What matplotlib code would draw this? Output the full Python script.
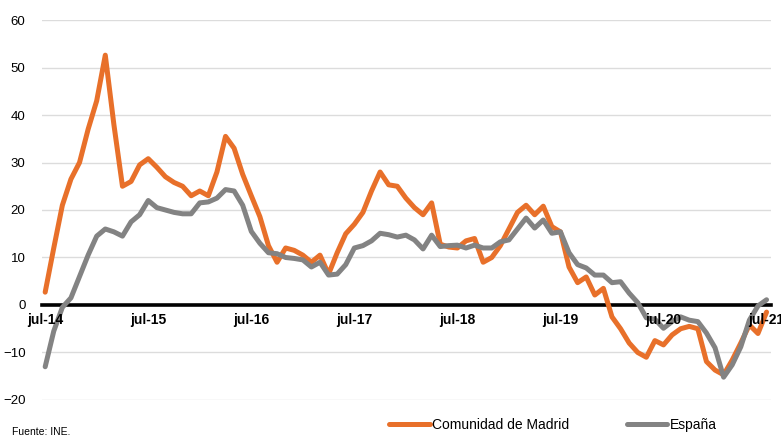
import numpy as np
import matplotlib.pyplot as plt

plt.rcParams['font.family'] = ['Liberation Sans', 'DejaVu Sans']

# monthly series, jul-14 .. jul-21
madrid = [2.7, 12, 21, 26.5, 30, 37, 43, 52.6, 38, 25, 26, 29.5, 30.8, 29, 27, 25.8,
          25, 23, 24, 23, 28, 35.5, 33, 27.5, 23, 18.6, 12.5, 9, 12, 11.5, 10.5, 9,
          10.5, 6.5, 11, 15, 17, 19.5, 24, 28, 25.3, 25, 22.5, 20.5, 19, 21.5, 12.8, 12.2,
          12, 13.5, 14, 9, 10, 12.5, 16, 19.5, 21, 19, 20.8, 16.5, 15.4, 8, 4.7, 5.9,
          2.1, 3.5, -2.5, -5, -8, -10, -11, -7.5, -8.4, -6.3, -5, -4.5, -5, -11.9, -13.7,
          -14.7, -11.6, -8, -4.2, -6, -1.5]
espana = [-13, -5.5, -0.5, 1.5, 6, 10.5, 14.5, 16, 15.4, 14.5, 17.5, 19, 22, 20.5, 20,
          19.5, 19.2, 19.2, 21.5, 21.7, 22.5, 24.3, 24, 21, 15.5, 13, 11, 10.8, 10, 9.8,
          9.5, 8, 9, 6.3, 6.5, 8.5, 12, 12.5, 13.5, 15.1, 14.8, 14.3, 14.7, 13.7, 11.8,
          14.7, 12.3, 12.5, 12.6, 12, 12.6, 12, 12, 13.3, 13.7, 16, 18.3, 16.2, 17.9,
          15.1, 15.4, 11, 8.5, 7.8, 6.3, 6.3, 4.7, 4.9, 2.5, 0.5, -2.7, -3, -4.9, -3.5,
          -2.5, -3.2, -3.5, -5.9, -9, -15.2, -12.6, -8.8, -3.2, -0.2, 1.1]
tick_labels = ['jul-14', 'jul-15', 'jul-16', 'jul-17', 'jul-18', 'jul-19', 'jul-20', 'jul-21']

orange = '#E8702A'
grey = '#838383'

fig = plt.figure(figsize=(7.81, 4.36), dpi=100)
ax = fig.add_axes([0.054, 0.0826, 0.933, 0.8715])

x = np.arange(len(madrid))
ax.plot(x, madrid, color=orange, lw=3.6, solid_joinstyle='round', solid_capstyle='round',
        label='Comunidad de Madrid', zorder=3)
ax.plot(x, espana, color=grey, lw=3.6, solid_joinstyle='round', solid_capstyle='round',
        label='España', zorder=3)

ax.set_ylim(-20, 60)
ax.set_xlim(-0.35, 84.5)
ax.set_yticks(range(-20, 61, 10))
ax.grid(axis='y', color='#dcdcdc', lw=1)
ax.set_axisbelow(True)
ax.xaxis.set_zorder(4)  # month labels sit on top of the lines

for s in ['top', 'right', 'left']:
    ax.spines[s].set_visible(False)
ax.spines['bottom'].set_position(('data', 0))
ax.spines['bottom'].set_linewidth(2.6)
ax.spines['bottom'].set_zorder(2)

ax.set_xticks(np.arange(0, 85, 12))
ax.set_xticklabels(tick_labels, fontweight='bold')
ax.tick_params(axis='x', length=0, pad=6, labelsize=10)
ax.tick_params(axis='y', length=0, pad=12, labelsize=9.5)

fig.legend(loc='center', bbox_to_anchor=(0.708, 0.025), ncol=2, frameon=False,
           fontsize=10, handlelength=2.9, handletextpad=0.15, columnspacing=4.2)

fig.text(0.015, 0.02, 'Fuente: INE.', fontsize=7.5, va='top')

fig.savefig('out.png', dpi=100)
